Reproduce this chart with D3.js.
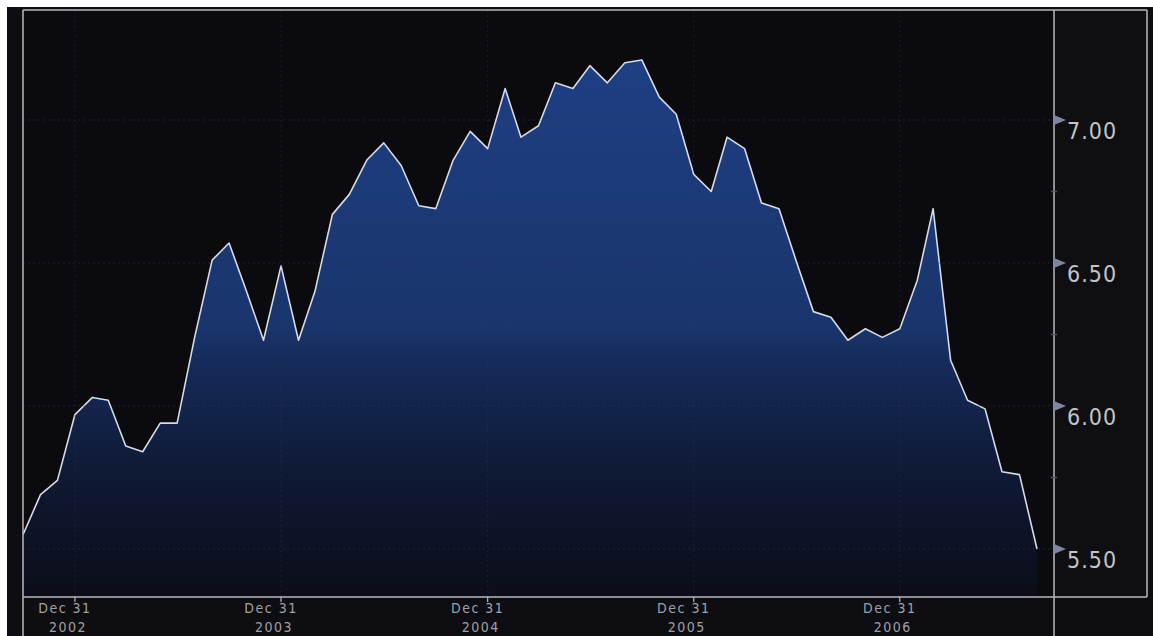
<!DOCTYPE html>
<html>
<head>
<meta charset="utf-8">
<script src="https://cdn.jsdelivr.net/npm/d3@7"></script>
<style>
  html, body { margin: 0; padding: 0; background: #ffffff; }
  svg { display: block; }
</style>
</head>
<body>
<svg id="chart" width="1153" height="636"></svg>
<script>
// ---- data ----
const months = [
  "2002-09","2002-10","2002-11","2002-12",
  "2003-01","2003-02","2003-03","2003-04","2003-05","2003-06","2003-07","2003-08","2003-09","2003-10","2003-11","2003-12",
  "2004-01","2004-02","2004-03","2004-04","2004-05","2004-06","2004-07","2004-08","2004-09","2004-10","2004-11","2004-12",
  "2005-01","2005-02","2005-03","2005-04","2005-05","2005-06","2005-07","2005-08","2005-09","2005-10","2005-11","2005-12",
  "2006-01","2006-02","2006-03","2006-04","2006-05","2006-06","2006-07","2006-08","2006-09","2006-10","2006-11","2006-12",
  "2007-01","2007-02","2007-03","2007-04","2007-05","2007-06","2007-07","2007-08"
];
const values = [
  5.55, 5.69, 5.74, 5.97,
  6.03, 6.02, 5.86, 5.84, 5.94, 5.94, 6.24, 6.51, 6.57, 6.40, 6.23, 6.49,
  6.23, 6.40, 6.67, 6.74, 6.86, 6.92, 6.84, 6.70, 6.69, 6.86, 6.96, 6.90,
  7.11, 6.94, 6.98, 7.13, 7.11, 7.19, 7.13, 7.20, 7.21, 7.08, 7.02, 6.81,
  6.75, 6.94, 6.90, 6.71, 6.69, 6.51, 6.33, 6.31, 6.23, 6.27, 6.24, 6.27,
  6.44, 6.69, 6.16, 6.02, 5.99, 5.77, 5.76, 5.50
];
const xTickDates = ["2002-12-31","2003-12-31","2004-12-31","2005-12-31","2006-12-31"];
const xTickTop = ["Dec 31","Dec 31","Dec 31","Dec 31","Dec 31"];
const xTickBottom = ["2002","2003","2004","2005","2006"];
const yTicks = [5.50, 6.00, 6.50, 7.00];

// ---- layout ----
const W = 1153, H = 636;
const plotL = 23, plotT = 10, plotR = 1054, plotB = 597, panelR = 1147;

const parseMonth = d3.timeParse("%Y-%m");
const monthEnd = s => d3.timeDay.offset(d3.timeMonth.offset(parseMonth(s), 1), -1);
const parseDay = d3.timeParse("%Y-%m-%d");
const data = months.map((m, i) => ({ date: monthEnd(m), value: values[i] }));

const x = d3.scaleTime()
  .domain([data[0].date, data[data.length - 1].date])
  .range([23, 1037]);
const y = d3.scaleLinear().domain([5.5, 7.0]).range([549, 120]);

const svg = d3.select("#chart");

// backgrounds
svg.append("rect").attr("x", 0).attr("y", 0).attr("width", W).attr("height", H).attr("fill", "#ffffff");
svg.append("rect").attr("x", 7).attr("y", 7).attr("width", W - 7).attr("height", H - 7).attr("fill", "#0d0d12");
svg.append("rect").attr("x", plotL).attr("y", plotT).attr("width", plotR - plotL).attr("height", plotB - plotT).attr("fill", "#0a0a0f");
svg.append("rect").attr("x", plotR).attr("y", plotT).attr("width", panelR - plotR).attr("height", plotB - plotT).attr("fill", "#0f0f12");

// gradient
const defs = svg.append("defs");
const grad = defs.append("linearGradient").attr("id", "areaGrad")
  .attr("gradientUnits", "userSpaceOnUse")
  .attr("x1", 0).attr("x2", 0).attr("y1", 60).attr("y2", plotB);
[[0, "#1f3f84"], [0.5, "#1a356c"], [0.56, "#152b5a"], [0.76, "#0f1a36"], [1, "#0c0d18"]].forEach(([o, c]) =>
  grad.append("stop").attr("offset", o).attr("stop-color", c));

const clip = defs.append("clipPath").attr("id", "plotClip");
clip.append("rect").attr("x", plotL).attr("y", plotT).attr("width", plotR - plotL).attr("height", plotB - plotT);

// area
const g = svg.append("g").attr("clip-path", "url(#plotClip)");
g.append("path").datum(data)
  .attr("fill", "url(#areaGrad)")
  .attr("d", d3.area().x(d => x(d.date)).y0(plotB).y1(d => y(d.value)));

// grid
const grid = svg.append("g");
yTicks.forEach(t => {
  grid.append("line").attr("x1", plotL).attr("x2", plotR).attr("y1", y(t)).attr("y2", y(t))
    .attr("stroke", "#3a3a48").attr("stroke-opacity", 0.5).attr("stroke-dasharray", "2,3");
});
xTickDates.forEach(s => {
  const xx = x(parseDay(s));
  grid.append("line").attr("x1", xx).attr("x2", xx).attr("y1", plotT).attr("y2", plotB)
    .attr("stroke", "#3a3a48").attr("stroke-opacity", 0.4).attr("stroke-dasharray", "2,3");
});

// line
g.append("path").datum(data)
  .attr("fill", "none")
  .attr("stroke", "#d6dbe8")
  .attr("stroke-width", 1.6)
  .attr("stroke-linejoin", "round")
  .attr("d", d3.line().x(d => x(d.date)).y(d => y(d.value)));

// frame lines
const frame = svg.append("g").attr("stroke", "#b8b8be").attr("stroke-width", 1.5);
frame.append("line").attr("x1", plotL).attr("x2", plotL).attr("y1", plotT).attr("y2", H);
frame.append("line").attr("x1", plotL).attr("x2", panelR).attr("y1", plotT).attr("y2", plotT);
frame.append("line").attr("x1", plotR).attr("x2", plotR).attr("y1", plotT).attr("y2", H);
frame.append("line").attr("x1", panelR).attr("x2", panelR).attr("y1", plotT).attr("y2", plotB);
frame.append("line").attr("x1", plotL).attr("x2", panelR).attr("y1", plotB).attr("y2", plotB);

// right axis labels + arrows
const yAxisG = svg.append("g");
yTicks.forEach(t => {
  const yy = y(t);
  yAxisG.append("path")
    .attr("d", `M${plotR},${yy - 5} L${plotR + 12},${yy} L${plotR},${yy + 5} Z`)
    .attr("fill", "#7e859e");
  yAxisG.append("text")
    .attr("x", 1067).attr("y", yy + 19)
    .attr("fill", "#c4c4c8")
    .attr("font-family", "'Liberation Sans Narrow', 'DejaVu Sans Condensed', sans-serif")
    .attr("font-size", 23)
    .attr("letter-spacing", "1px")
    .text(d3.format(".2f")(t));
});
// minor ticks on right axis
for (let i = 0; i < yTicks.length - 1; i++) {
  const ym = y((yTicks[i] + yTicks[i + 1]) / 2);
  yAxisG.append("line").attr("x1", plotR - 3).attr("x2", plotR + 3).attr("y1", ym).attr("y2", ym)
    .attr("stroke", "#55555e").attr("stroke-width", 1.5);
}

// x axis ticks and labels
const xAxisG = svg.append("g");
xTickDates.forEach((s, i) => {
  const xx = x(parseDay(s));
  xAxisG.append("line").attr("x1", xx).attr("x2", xx).attr("y1", plotB).attr("y2", plotB + 5)
    .attr("stroke", "#b8b8be").attr("stroke-width", 1.2);
  xAxisG.append("text")
    .attr("x", xx - 10).attr("y", 613)
    .attr("text-anchor", "middle")
    .attr("fill", "#a0a0a6")
    .attr("font-family", "'Liberation Sans Narrow', 'DejaVu Sans Condensed', sans-serif")
    .attr("font-size", 14)
    .attr("letter-spacing", "1.5px")
    .text(xTickTop[i]);
  xAxisG.append("text")
    .attr("x", xx - 7).attr("y", 632)
    .attr("text-anchor", "middle")
    .attr("fill", "#a0a0a6")
    .attr("font-family", "'Liberation Sans Narrow', 'DejaVu Sans Condensed', sans-serif")
    .attr("font-size", 14)
    .attr("letter-spacing", "1.5px")
    .text(xTickBottom[i]);
});
</script>
</body>
</html>
